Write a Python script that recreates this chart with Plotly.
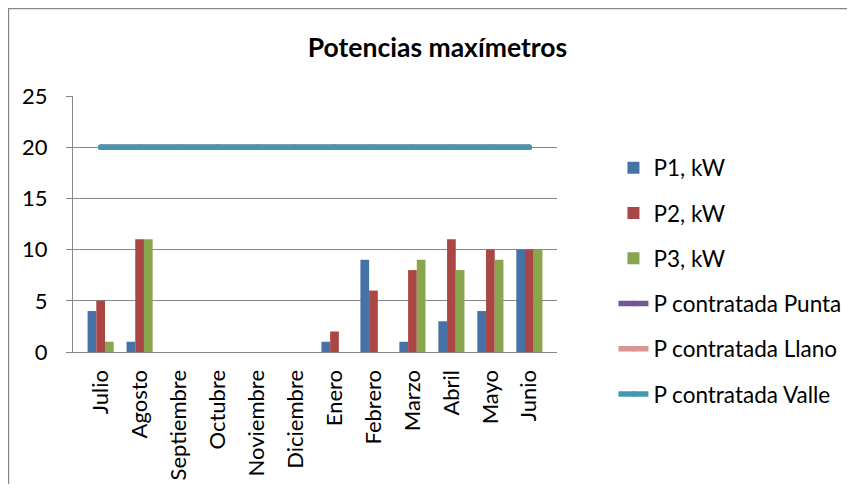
import plotly.graph_objects as go

meses = ["Julio", "Agosto", "Septiembre", "Octubre", "Noviembre", "Diciembre",
         "Enero", "Febrero", "Marzo", "Abril", "Mayo", "Junio"]
p1_kw = [4, 1, 0, 0, 0, 0, 1, 9, 1, 3, 4, 10]
p2_kw = [5, 11, 0, 0, 0, 0, 2, 6, 8, 11, 10, 10]
p3_kw = [1, 11, 0, 0, 0, 0, 0, 0, 9, 8, 9, 10]
p_punta = [20] * 12
p_llano = [20] * 12
p_valle = [20] * 12
y_ticks = [0, 5, 10, 15, 20, 25]

FONT = "Lato"
OFF = 8  # page body margin
W, H = 855 - OFF, 492 - 2 * OFF
L, R = 73 - OFF, 556.6 - OFF
T, B = 96 - OFF, 352 - OFF

fig = go.Figure()
bar_specs = [("P1, kW", p1_kw, "#4572A7"),
             ("P2, kW", p2_kw, "#AA4643"),
             ("P3, kW", p3_kw, "#89A54E")]
for i, (name, vals, col) in enumerate(bar_specs):
    fig.add_trace(go.Bar(x=meses, y=vals, name=name, marker_color=col,
                         marker_line=dict(width=0),
                         legendgroup=f"g{i}"))
line_specs = [("P contratada Punta", p_punta, "#71588F"),
              ("P contratada Llano", p_llano, "#D99694"),
              ("P contratada Valle", p_valle, "#4198AF")]
for j, (name, vals, col) in enumerate(line_specs):
    fig.add_trace(go.Scatter(x=meses, y=vals, name=name, mode="lines+markers",
                             line=dict(color=col, width=5.5),
                             marker=dict(color=col, size=5.5, line=dict(width=0)),
                             legendgroup=f"h{j}"))

def px_to_paper_x(px):
    return (px - OFF - L) / (R - L)

def px_to_paper_y(py):
    return (B - (py - OFF)) / (B - T)

fig.update_layout(
    width=W, height=H,
    margin=dict(l=L, r=W - R, t=T, b=H - B, autoexpand=False),
    paper_bgcolor="white", plot_bgcolor="white",
    font=dict(family=FONT, size=22, color="#000000"),
    title=dict(text="<b>Potencias maxímetros</b>", x=(437.5 - OFF) / W, xanchor="center",
               xref="container", y=1 - (48 - OFF) / H, yanchor="middle", yref="container",
               font=dict(family=FONT, size=26.5, color="#000000")),
    barmode="group", bargap=0.33, bargroupgap=0,
    showlegend=True,
    legend=dict(x=px_to_paper_x(613), xanchor="left",
                y=px_to_paper_y(146.5), yanchor="top",
                traceorder="grouped", tracegroupgap=13.0, maxheight=420,
                font=dict(family=FONT, size=22.5, color="#000000"),
                bgcolor="rgba(0,0,0,0)"),
    xaxis=dict(showgrid=False, showline=True, linecolor="#878787", linewidth=1.3,
               ticks="", tickangle=-90, ticklabelstandoff=8,
               tickfont=dict(family=FONT, size=22)),
    yaxis=dict(range=[0, 25], tickvals=y_ticks, showgrid=True,
               gridcolor="#878787", gridwidth=1.3, showline=True,
               linecolor="#878787", linewidth=1.3, ticks="outside", ticklen=6,
               tickcolor="#878787", tickwidth=1.3, ticklabelstandoff=14,
               zeroline=False, tickfont=dict(family=FONT, size=22)),
    shapes=[dict(type="rect", xref="paper", yref="paper",
                 x0=px_to_paper_x(8.5), x1=px_to_paper_x(900),
                 y0=px_to_paper_y(520), y1=px_to_paper_y(8.5),
                 line=dict(color="#878787", width=1.5), fillcolor="rgba(0,0,0,0)",
                 layer="below")],
)

fig.write_html("out.html")
